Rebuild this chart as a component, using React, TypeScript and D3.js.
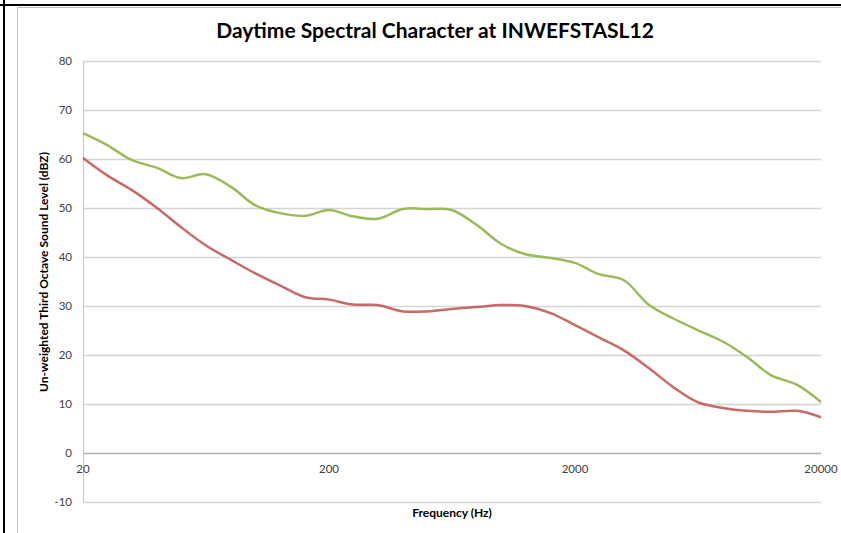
import { useEffect, useRef } from "react";
import * as d3 from "d3";

// third-octave band centre frequencies (Hz)
const bands = [
  20, 25, 31.5, 40, 50, 63, 80, 100, 125, 160, 200, 250, 315, 400, 500, 630, 800,
  1000, 1250, 1600, 2000, 2500, 3150, 4000, 5000, 6300, 8000, 10000, 12500, 16000, 20000,
];

// upper (green) series, dBZ
const greenLevels = [
  65.3, 62.9, 59.8, 58.2, 56.1, 56.9, 54.3, 50.6, 49.0, 48.4, 49.6, 48.3, 47.8, 49.8, 49.8,
  49.6, 46.5, 42.7, 40.6, 39.8, 38.8, 36.5, 35.3, 30.2, 27.5, 25.1, 22.7, 19.6, 15.9, 13.9, 10.4,
];

// lower (red) series, dBZ
const redLevels = [
  60.2, 56.7, 53.7, 50.0, 46.1, 42.4, 39.4, 36.7, 34.3, 31.8, 31.3, 30.3, 30.2, 28.9, 28.9,
  29.4, 29.8, 30.2, 30.0, 28.5, 26.1, 23.6, 21.0, 17.3, 13.5, 10.4, 9.2, 8.6, 8.4, 8.6, 7.3,
];

const xTicks = [20, 200, 2000, 20000];
const yTicks = [-10, 0, 10, 20, 30, 40, 50, 60, 70, 80];

const W = 841;
const H = 533;
const FONT = "Lato, 'Open Sans', sans-serif";

export default function App() {
  const ref = useRef<SVGSVGElement | null>(null);

  useEffect(() => {
    const svg = d3.select(ref.current);
    svg.selectAll("*").remove();

    const x = d3.scaleLog().domain([20, 20000]).range([83, 821]);
    const y = d3.scaleLinear().domain([-10, 80]).range([502, 61]);

    // page borders (table cell) and chart frame
    svg.append("rect").attr("width", W).attr("height", H).attr("fill", "#fff");
    svg.append("line").attr("x1", 0).attr("x2", W).attr("y1", 5).attr("y2", 5)
      .attr("stroke", "#000").attr("stroke-width", 2);
    svg.append("line").attr("x1", 4).attr("x2", 4).attr("y1", 0).attr("y2", H)
      .attr("stroke", "#000").attr("stroke-width", 2);
    svg.append("path").attr("d", `M17.5,${H}V7.5H${W}`)
      .attr("fill", "none").attr("stroke", "#bfbfbf").attr("stroke-width", 1);

    // gridlines
    svg.append("g")
      .selectAll("line")
      .data(yTicks)
      .join("line")
      .attr("x1", x(20))
      .attr("x2", x(20000))
      .attr("y1", (d) => Math.round(y(d)) + 0.5)
      .attr("y2", (d) => Math.round(y(d)) + 0.5)
      .attr("stroke", (d) => (d === 0 ? "#b0b0b0" : "#d4d4d4"))
      .attr("stroke-width", 1.3);

    // y axis line
    svg.append("line")
      .attr("x1", x(20) + 0.5).attr("x2", x(20) + 0.5)
      .attr("y1", y(80)).attr("y2", y(-10))
      .attr("stroke", "#c8c8c8");

    // y tick labels
    svg.append("g")
      .selectAll("text")
      .data(yTicks)
      .join("text")
      .attr("x", 72)
      .attr("y", (d) => y(d) + 4)
      .attr("text-anchor", "end")
      .attr("font-family", FONT)
      .attr("font-size", 11.5)
      .attr("fill", "#404040")
      .text((d) => d);

    // x tick labels
    svg.append("g")
      .selectAll("text")
      .data(xTicks)
      .join("text")
      .attr("x", (d) => x(d))
      .attr("y", 473)
      .attr("text-anchor", "middle")
      .attr("font-family", FONT)
      .attr("font-size", 11.5)
      .attr("fill", "#404040")
      .text((d) => d);

    // titles
    svg.append("text")
      .attr("x", 435).attr("y", 38)
      .attr("text-anchor", "middle")
      .attr("font-family", FONT)
      .attr("font-weight", "bold")
      .attr("font-size", 21)
      .attr("fill", "#000")
      .text("Daytime Spectral Character at INWEFSTASL12");

    svg.append("text")
      .attr("x", 452).attr("y", 517)
      .attr("text-anchor", "middle")
      .attr("font-family", FONT)
      .attr("font-weight", "bold")
      .attr("font-size", 12)
      .attr("fill", "#000")
      .text("Frequency (Hz)");

    svg.append("text")
      .attr("transform", "translate(48,272) rotate(-90)")
      .attr("text-anchor", "middle")
      .attr("font-family", FONT)
      .attr("font-weight", "bold")
      .attr("font-size", 12)
      .attr("fill", "#000")
      .text("Un-weighted Third Octave Sound Level (dBZ)");

    // series
    const line = d3
      .line<number>()
      .x((_, i) => x(bands[i]))
      .y((d) => y(d))
      .curve(d3.curveCatmullRom.alpha(0.5));

    svg.append("path")
      .datum(greenLevels)
      .attr("d", line)
      .attr("fill", "none")
      .attr("stroke", "#9bbb59")
      .attr("stroke-width", 2.5);

    svg.append("path")
      .datum(redLevels)
      .attr("d", line)
      .attr("fill", "none")
      .attr("stroke", "#c0504d")
      .attr("stroke-width", 2.5)
      .attr("opacity", 0.85);
  }, []);

  return (
    <svg
      ref={ref}
      width={W}
      height={H}
      style={{ position: "fixed", left: 0, top: 0, display: "block" }}
    />
  );
}
